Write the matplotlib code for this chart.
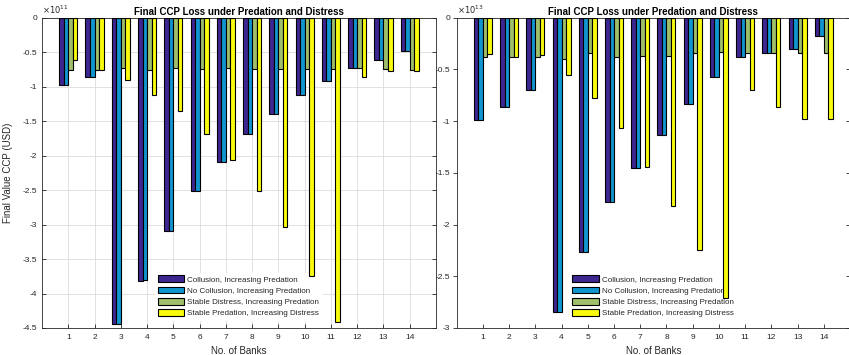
import numpy as np
import matplotlib
matplotlib.use('Agg')
import matplotlib.pyplot as plt

plt.rcParams['font.family'] = ['Liberation Sans', 'DejaVu Sans']

banks = list(range(1, 15))
series_names = ['Collusion, Increasing Predation',
                'No Collusion, Increasing Predation',
                'Stable Distress, Increasing Predation',
                'Stable Predation, Increasing Distress']
colors = ['#3e2691', '#1195cf', '#9fbf6a', '#f9fb0e']

# left panel, values in units of 1e11 USD
collusion_l = [-0.97, -0.855, -4.44, -3.82, -3.10, -2.51, -2.09, -1.69, -1.39, -1.12, -0.92, -0.73, -0.61, -0.49]
nocollusion_l = [-0.97, -0.855, -4.44, -3.81, -3.10, -2.51, -2.09, -1.69, -1.39, -1.12, -0.92, -0.73, -0.61, -0.49]
distress_l = [-0.76, -0.76, -0.73, -0.76, -0.73, -0.75, -0.73, -0.74, -0.74, -0.74, -0.74, -0.73, -0.74, -0.76]
predation_l = [-0.61, -0.76, -0.91, -1.12, -1.35, -1.68, -2.06, -2.51, -3.04, -3.75, -4.42, -0.855, -0.78, -0.78]

# right panel, values in units of 1e13 USD
collusion_r = [-0.99, -0.86, -0.70, -2.85, -2.27, -1.785, -1.456, -1.135, -0.83, -0.577, -0.383, -0.34, -0.306, -0.177]
nocollusion_r = [-0.99, -0.86, -0.70, -2.85, -2.27, -1.785, -1.456, -1.135, -0.83, -0.577, -0.383, -0.34, -0.306, -0.177]
distress_r = [-0.377, -0.377, -0.377, -0.40, -0.34, -0.383, -0.37, -0.37, -0.34, -0.33, -0.34, -0.34, -0.34, -0.34]
predation_r = [-0.354, -0.377, -0.36, -0.55, -0.78, -1.07, -1.447, -1.82, -2.25, -2.71, -0.70, -0.867, -0.98, -0.98]

left_series = [collusion_l, nocollusion_l, distress_l, predation_l]
right_series = [collusion_r, nocollusion_r, distress_r, predation_r]

axis_col = '#262626'
fig = plt.figure(figsize=(8.49, 3.55), dpi=100)
ax1 = fig.add_axes([42/849, 27/355, 394/849, 310.3/355])
ax2 = fig.add_axes([456.7/849, 27/355, 393.3/849, 310.3/355])

width = 0.172
x = np.array(banks)


def draw(ax, data, ylim, yticks, exponent, grid):
    for i, vals in enumerate(data):
        ax.bar(x + (i - 1.5) * width, vals, width, color=colors[i], edgecolor='black',
               linewidth=0.8, label=series_names[i], zorder=3)
    ax.set_xlim(0, 15)
    ax.set_ylim(ylim, 0)
    ax.set_xticks(banks)
    ax.set_yticks(yticks)
    ax.set_yticklabels([f'{v:g}' for v in yticks])
    for s in ax.spines.values():
        s.set_color(axis_col)
        s.set_linewidth(0.6)
    ax.tick_params(colors=axis_col, labelsize=6, width=0.6, length=3)
    ax.tick_params(axis='x', direction='in', top=True, pad=4)
    if grid:
        ax.grid(True, color='#dcdcdc', linewidth=0.6, zorder=0)
        ax.set_axisbelow(True)
        ax.tick_params(axis='y', direction='in', right=True, pad=3.5)
    else:
        ax.tick_params(axis='y', direction='out', pad=1.5)
        sec = ax.secondary_yaxis('right')
        sec.set_yticks(yticks)
        sec.tick_params(direction='in', labelright=False, length=3, width=0.6, colors=axis_col)
        sec.spines['right'].set_color(axis_col)
        sec.spines['right'].set_linewidth(0.6)
    ax.text(0, 1.004, r'$\times10^{%d}$' % exponent, transform=ax.transAxes,
            fontsize=6, color=axis_col, va='bottom', ha='left')
    ax.set_title('Final CCP Loss under Predation and Distress', fontsize=7,
                 fontweight='bold', pad=2)
    ax.set_xlabel('No. of Banks', fontsize=7, color=axis_col)
    ax.xaxis.set_label_coords(0.5, -0.058)
    leg = ax.legend(loc='upper left', bbox_to_anchor=(0.277, 0.19), fontsize=5.8,
                    handlelength=3.3, handleheight=0.9, handletextpad=0.4,
                    labelspacing=0.38, borderpad=0.3, frameon=True, fancybox=False,
                    edgecolor='white', framealpha=1)
    for t in leg.get_texts():
        t.set_color(axis_col)
    # bars are drawn over the legend box, as in the original
    leg.set_zorder(2.5)


draw(ax1, left_series, -4.5, np.arange(0, -4.51, -0.5), 11, True)
draw(ax2, right_series, -3.0, np.arange(0, -3.01, -0.5), 13, False)
ax1.set_ylabel('Final Value CCP (USD)', fontsize=7, color=axis_col)
ax1.yaxis.set_label_coords(-0.074, 0.5)

fig.savefig('out.png', dpi=100)
